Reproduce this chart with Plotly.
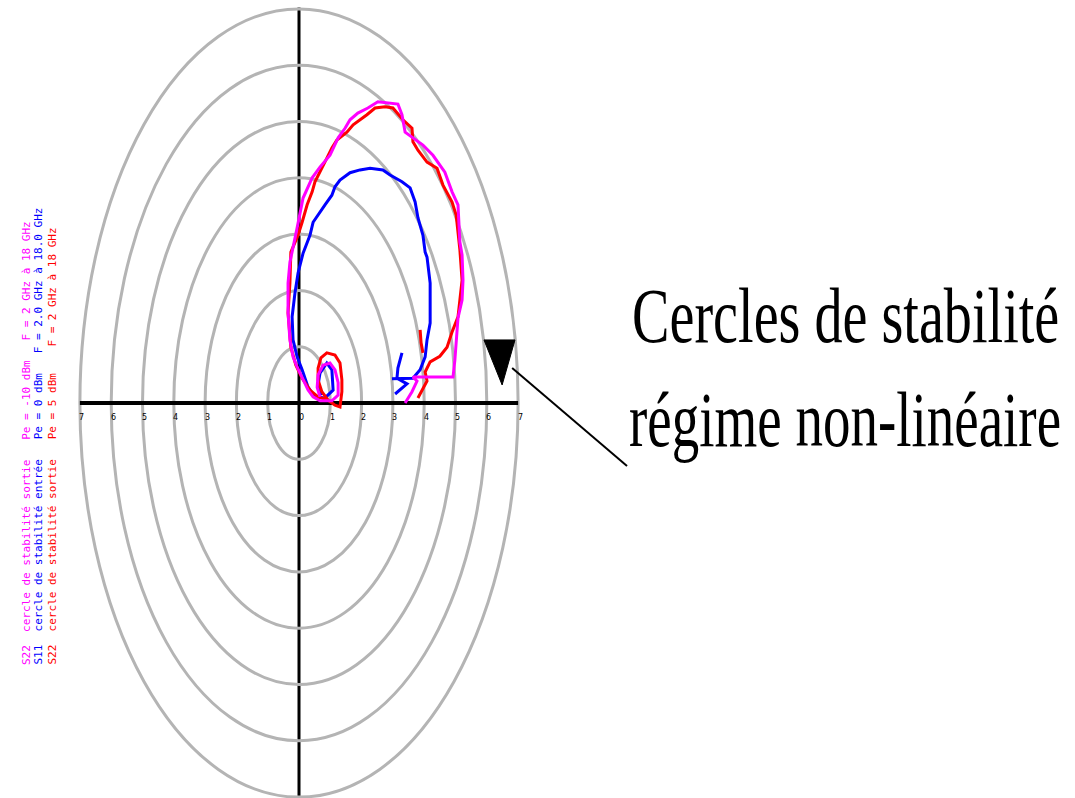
import plotly.graph_objects as go

# ---- data (chart units: one ring = 1) ----
RINGS = [1, 2, 3, 4, 5, 6, 7]
TICK_POS = [-7, -6, -5, -4, -3, -2, -1, 0, 1, 2, 3, 4, 5, 6, 7]
TICK_LABELS = ["7", "6", "5", "4", "3", "2", "1", "0", "1", "2", "3", "4", "5", "6", "7"]

magenta_x = [3.39, 3.61, 3.77, 3.64, 4.35, 4.92, 4.98, 5.02, 5.08, 5.21, 5.24, 5.21, 5.14, 5.08,
             4.89, 4.66, 4.28, 3.96, 3.64, 3.39, 3.29, 3.16, 2.52, 2.20, 1.88, 1.63, 1.47, 1.25,
             0.99, 0.67, 0.42, 0.13, -0.06, -0.19, -0.29, -0.35, -0.35, -0.29, -0.19, -0.06,
             0.13, 0.29, 0.45, 0.67, 1.05, 1.25, 1.25, 1.15, 0.99, 0.77, 0.61, 0.58, 0.67]
magenta_y = [0.00, 0.20, 0.39, 0.46, 0.46, 0.46, 0.76, 1.12, 1.51, 1.83, 2.18, 2.63, 2.86, 3.52,
             3.75, 4.10, 4.40, 4.58, 4.71, 4.81, 5.12, 5.31, 5.35, 5.24, 5.15, 5.03, 4.88, 4.71,
             4.40, 4.19, 4.00, 3.64, 3.11, 2.75, 2.50, 2.13, 1.60, 1.12, 0.82, 0.64,
             0.41, 0.23, 0.11, 0.04, 0.04, 0.14, 0.36, 0.59, 0.71, 0.67, 0.50, 0.28, 0.11]

red_x = [3.80, 3.93, 4.09, 4.03, 4.19, 4.50, 4.73, 4.89, 5.08, 5.14, 5.21, 5.14, 5.08, 5.02,
         4.89, 4.60, 4.41, 4.09, 3.80, 3.64, 3.61, 3.32, 3.00, 2.75, 2.43, 2.17, 1.73, 1.53,
         1.21, 1.05, 0.89, 0.67, 0.51, 0.42, 0.26, 0.10, -0.03, -0.26, -0.29, -0.35, -0.29,
         -0.26, -0.10, 0.10, 0.35, 0.61, 0.93, 1.15, 1.31, 1.37, 1.37, 1.31, 1.15, 0.89, 0.70,
         0.61, 0.61, 0.73, 0.93,
         None, 3.87, 3.90, 3.96]
red_y = [0.09, 0.23, 0.39, 0.55, 0.73, 0.83, 0.99, 1.26, 1.53, 1.83, 2.18, 2.72, 2.98, 3.34,
         3.57, 3.87, 4.17, 4.28, 4.49, 4.64, 4.88, 5.03, 5.24, 5.26, 5.24, 5.12, 4.94, 4.81,
         4.67, 4.53, 4.35, 4.10, 3.93, 3.75, 3.52, 3.21, 2.98, 2.68, 2.13, 1.60, 1.24,
         0.99, 0.67, 0.44, 0.23, 0.11, 0.05, -0.04, -0.07, 0.20, 0.41, 0.71, 0.85, 0.89, 0.80,
         0.62, 0.41, 0.20, 0.05,
         None, 1.30, 1.07, 0.89]

blue_x = [2.97, 3.64, 3.87, 4.03, 4.09, 4.19, 4.19, 4.09, 4.03, 3.96, 3.80, 3.71, 3.55, 3.29,
          2.91, 2.68, 2.27, 1.95, 1.63, 1.31, 1.15, 1.05, 0.83, 0.61, 0.45, 0.35, 0.19, 0.13,
          -0.03, -0.13, -0.22, -0.19, -0.06, 0.10, 0.29, 0.51, 0.83, 1.09, 1.05, 0.89, 0.67,
          0.61, 0.73,
          None, 3.29, 3.16, 3.13, 3.45, 3.07]
blue_y = [0.43, 0.44, 0.59, 0.82, 1.12, 1.42, 2.13, 2.59, 2.68, 2.98, 3.29, 3.57, 3.82, 3.93,
          4.05, 4.14, 4.17, 4.14, 4.09, 3.96, 3.84, 3.69, 3.52, 3.34, 3.21, 2.98, 2.75, 2.66,
          2.31, 1.95, 1.53, 1.12, 0.82, 0.59, 0.28, 0.11, 0.09, 0.23, 0.59, 0.71, 0.53,
          0.32, 0.14,
          None, 0.89, 0.62, 0.44, 0.34, 0.16]

legend_magenta = "S22  cercle de stabilité sortie   Pe = -10 dBm   F = 2 GHz à 18 GHz"
legend_blue = "S11  cercle de stabilité entrée   Pe = 0 dBm   F = 2.0 GHz à 18.0 GHz"
legend_red = "S22  cercle de stabilité sortie   Pe = 5 dBm    F = 2 GHz à 18 GHz"

CALLOUT_LINE1 = "Cercles de stabilité"
CALLOUT_LINE2 = "régime non-linéaire"

# pointer triangle and leader line (chart units)
POINTER_TRI = [(5.91, 1.12), (6.90, 1.12), (6.49, 0.32)]
LEADER = [(6.81, 0.62), (10.48, -1.12)]

# ---- layout scale: pixels per unit on each axis ----
W, H = 1075, 798
CX, CY = 299, 403
SX, SY = 31.3, 56.3

fig = go.Figure()

grey = "#b4b4b4"
shapes = []
for r in RINGS:
    shapes.append(dict(type="circle", xref="x", yref="y", x0=-r, x1=r, y0=-r, y1=r,
                       line=dict(color=grey, width=3), layer="below"))
# axes cross
shapes.append(dict(type="line", xref="x", yref="y", x0=-RINGS[-1], x1=RINGS[-1], y0=0, y1=0,
                   line=dict(color="black", width=4), layer="below"))
shapes.append(dict(type="line", xref="x", yref="paper", x0=0, x1=0, y0=0, y1=1 - 7.5 / H,
                   line=dict(color="black", width=3), layer="below"))
# pointer
tri = "M {} {} L {} {} L {} {} Z".format(*[v for p in POINTER_TRI for v in p])
shapes.append(dict(type="path", xref="x", yref="y", path=tri, fillcolor="black",
                   line=dict(color="black", width=1)))
shapes.append(dict(type="line", xref="x", yref="y", x0=LEADER[0][0], y0=LEADER[0][1],
                   x1=LEADER[1][0], y1=LEADER[1][1], line=dict(color="black", width=2)))

for xs, ys, col in [(blue_x, blue_y, "#0000ff"), (red_x, red_y, "#ff0000"),
                    (magenta_x, magenta_y, "#ff00ff")]:
    fig.add_trace(go.Scatter(x=xs, y=ys, mode="lines", line=dict(color=col, width=3),
                             hoverinfo="skip", showlegend=False))

annotations = []
for p, t in zip(TICK_POS, TICK_LABELS):
    annotations.append(dict(x=p, y=0, xref="x", yref="y", text=t, showarrow=False,
                            yshift=-14, xshift=2, font=dict(family="DejaVu Sans", size=8, color="black")))

for txt, px, col in [(legend_magenta, 26, "#ff00ff"), (legend_blue, 38, "#0000ff"),
                     (legend_red, 52, "#ff0000")]:
    annotations.append(dict(x=px / W, y=1 - 667 / H, xref="paper", yref="paper", text=txt,
                            textangle=-90, showarrow=False, xanchor="center", yanchor="bottom",
                            font=dict(family="DejaVu Sans Mono", size=11, color=col)))

serif = "Liberation Serif, Times New Roman, serif"
annotations.append(dict(x=630 / W, y=1 - 315 / H, xref="paper", yref="paper", text=CALLOUT_LINE1,
                        showarrow=False, xanchor="left", yanchor="middle",
                        font=dict(family=serif, size=78, color="black")))
annotations.append(dict(x=627 / W, y=1 - 419 / H, xref="paper", yref="paper", text=CALLOUT_LINE2,
                        showarrow=False, xanchor="left", yanchor="middle",
                        font=dict(family=serif, size=78, color="black")))

fig.update_layout(
    width=W, height=H,
    margin=dict(l=0, r=0, t=0, b=0),
    paper_bgcolor="white", plot_bgcolor="white",
    xaxis=dict(range=[-CX / SX, (W - CX) / SX], visible=False, fixedrange=True),
    yaxis=dict(range=[-(H - CY) / SY, CY / SY], visible=False, fixedrange=True),
    shapes=shapes, annotations=annotations, showlegend=False,
)

# the callout is set in a narrow face: compress the two serif lines horizontally
squeeze_js = """
var gd = document.getElementById('{plot_id}');
gd.querySelectorAll('text.annotation-text').forEach(function (t) {
  var s = t.textContent || '';
  if (s.indexOf('Cercles') === 0 || s.indexOf('r\\u00e9gime') === 0) {
    t.style.transformBox = 'fill-box';
    t.style.transformOrigin = '0% 50%';
    t.style.transform = 'scaleX(' + (s.indexOf('Cercles') === 0 ? 0.72 : 0.705) + ')';
  }
});
"""

fig.write_html("out.html", config={"displayModeBar": False}, post_script=squeeze_js)
